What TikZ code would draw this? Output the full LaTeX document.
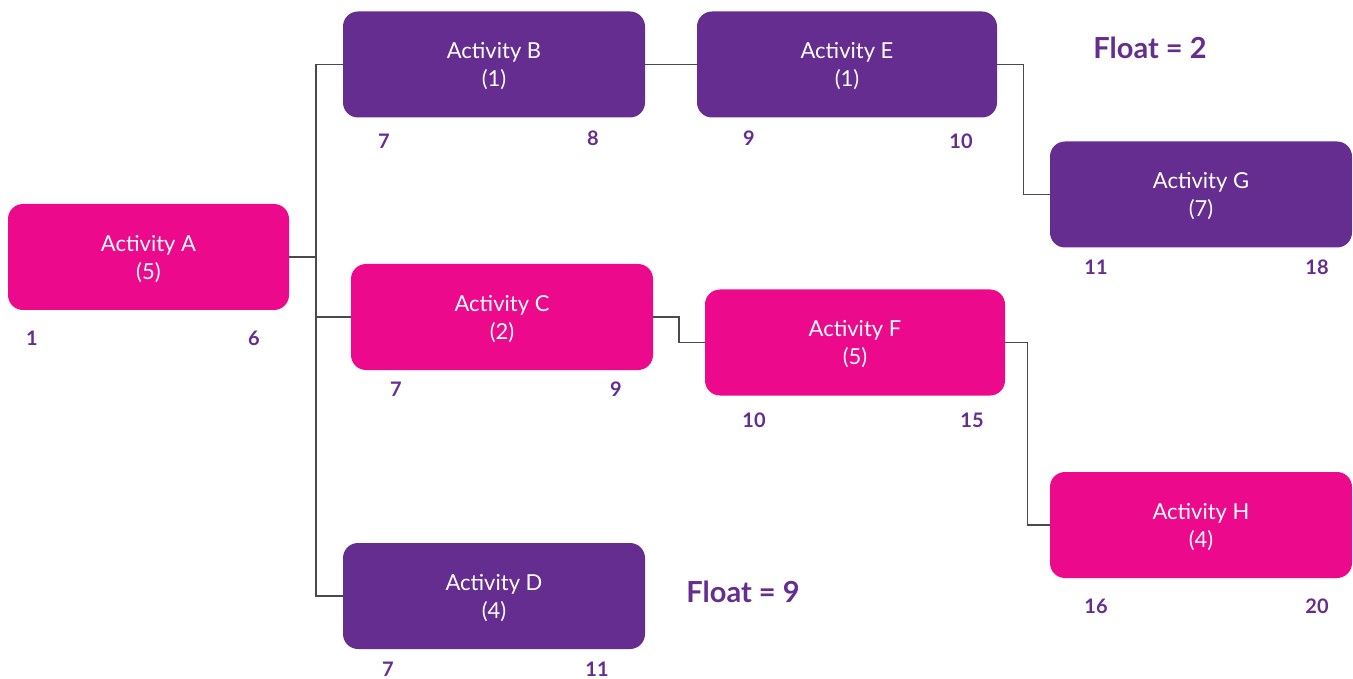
\documentclass[tikz,border=0pt]{standalone}
\usepackage{fontspec}
\setmainfont{Lato}
\usetikzlibrary{calc}
\definecolor{actpink}{HTML}{EC098C}
\definecolor{actpurple}{HTML}{652D8F}
\definecolor{linkgray}{HTML}{4A4A4A}
% two-line activity label, nudged a little below the box centre
\newcommand{\actlabel}[2]{\rule{0pt}{20pt}#1\\#2}
\begin{document}
\begin{tikzpicture}[x=1pt,y=-1pt,
  actbox/.style={rectangle, rounded corners=15pt, inner sep=0pt,
    minimum width=302pt, minimum height=106pt, text=white, align=center,
    font=\fontsize{22}{28}\selectfont},
  pinkbox/.style={actbox, fill=actpink},
  purplebox/.style={actbox, fill=actpurple},
  daynum/.style={text=actpurple, font=\fontsize{20}{22}\selectfont\bfseries, inner sep=0pt},
  floatlbl/.style={text=actpurple, font=\fontsize{29}{30}\selectfont\bfseries, inner sep=0pt},
  link/.style={draw=linkgray, line width=1.4pt}]
\useasboundingbox (0,0) rectangle (1353,679);

% activity boxes
\node[pinkbox, minimum width=281pt] (A) at (148.5,257) {\actlabel{Activity A}{(5)}};
\node[purplebox] (B) at (494,64.5) {\actlabel{Activity B}{(1)}};
\node[purplebox, minimum width=300pt] (E) at (847,64.5) {\actlabel{Activity E}{(1)}};
\node[purplebox] (G) at (1201,194.5) {\actlabel{Activity G}{(7)}};
\node[pinkbox] (C) at (502,317) {\actlabel{Activity C}{(2)}};
\node[pinkbox, minimum width=300pt] (F) at (855,342.5) {\actlabel{Activity F}{(5)}};
\node[pinkbox] (H) at (1201,525) {\actlabel{Activity H}{(4)}};
\node[purplebox] (D) at (494,596) {\actlabel{Activity D}{(4)}};

% start / finish days
\node[daynum] (A1) at (32,338) {1};
\node[daynum] (A2) at (254,338) {6};
\node[daynum] (B1) at (384,141) {7};
\node[daynum] (B2) at (593,138) {8};
\node[daynum] (E1) at (749,138) {9};
\node[daynum] (E2) at (961,141) {10};
\node[daynum] (G1) at (1096,267) {11};
\node[daynum] (G2) at (1317,267) {18};
\node[daynum] (C1) at (396,389) {7};
\node[daynum] (C2) at (616,389) {9};
\node[daynum] (F1) at (754,420) {10};
\node[daynum] (F2) at (972,420) {15};
\node[daynum] (H1) at (1096,606) {16};
\node[daynum] (H2) at (1317,606) {20};
\node[daynum] (D1) at (388,669) {7};
\node[daynum] (D2) at (597,669) {11};

% float labels
\node[floatlbl] (fl2) at (1150,48) {Float = 2};
\node[floatlbl] (fl9) at (743,592) {Float = 9};

% connectors
\coordinate (jA) at (316,257);
\draw[link] (A.east) -- (jA);
\draw[link] (B.west) -| (jA) |- (D.west);
\draw[link] (jA |- C.west) -- (C.west);
\draw[link] (B.east) -- (E.east -| E.west);
\draw[link] (E.east) -| ($(E.east)!0.5!(G.west)$) |- (G.west);
\draw[link] (C.east) -| ($(C.east)!0.5!(F.west)$) |- (F.west);
\draw[link] (F.east) -| ($(F.east)!0.5!(H.west)$) |- (H.west);
\end{tikzpicture}
\end{document}
